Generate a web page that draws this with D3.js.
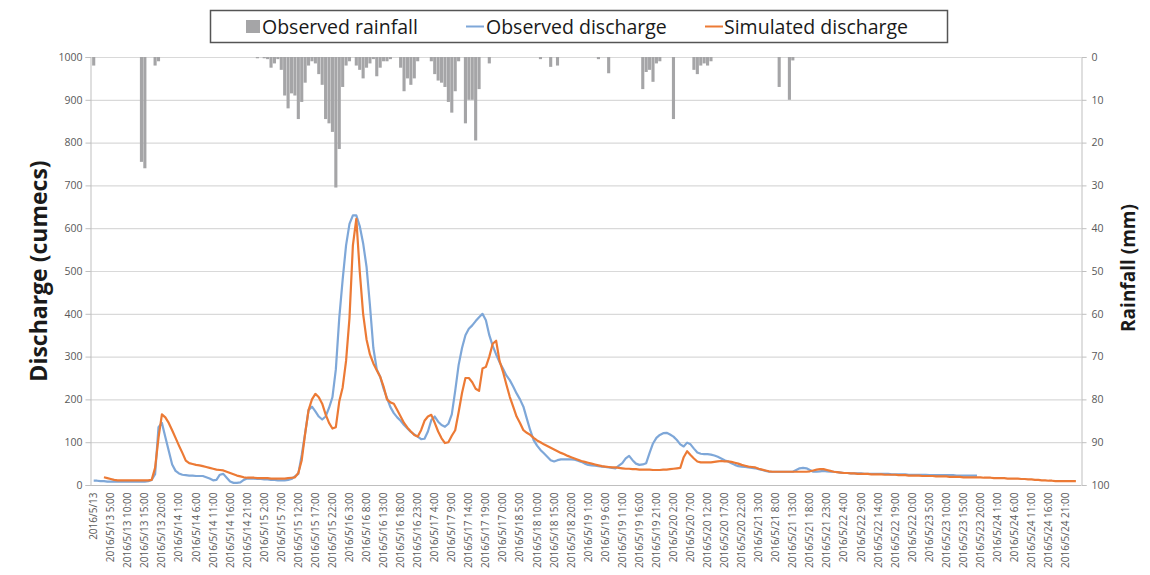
<!DOCTYPE html>
<html>
<head>
<meta charset="utf-8">
<script src="https://cdn.jsdelivr.net/npm/d3@7"></script>
<style>
  html, body { margin: 0; padding: 0; background: #fff; }
  svg { display: block; font-family: "Open Sans", "DejaVu Sans", sans-serif; }
</style>
</head>
<body>
<svg id="chart" width="1150" height="575"></svg>
<script>
// Hourly series, 2016/5/13 0:00 onward (index = hours since start)
const hourCount = 290;

// Observed discharge (cumecs), hours 0..259
const observedDischarge = [
  10,10,9,9,8,8,8,8,8,8,
  8,8,8,8,8,8,9,12,25,135,
  145,112,80,48,33,27,24,23,22,22,
  21,21,21,18,15,11,12,24,26,17,
  8,5,5,6,12,15,15,15,14,14,
  13,13,12,12,11,11,11,12,14,20,
  26,70,121,175,183,172,160,153,160,180,
  205,270,390,480,560,610,630,630,605,565,
  510,420,320,270,253,225,203,182,168,158,
  150,140,132,124,118,113,107,108,125,152,
  160,148,140,136,143,165,220,280,320,350,
  365,373,383,392,400,385,350,325,305,287,
  272,256,245,230,214,200,183,155,128,105,
  92,82,74,66,58,55,58,60,60,60,
  60,59,57,54,50,47,46,45,44,43,
  42,41,40,39,45,51,62,68,58,50,
  47,48,51,75,97,110,117,121,122,118,
  113,105,95,90,99,95,85,76,73,72,
  72,71,69,66,62,58,55,51,47,44,
  43,42,41,40,39,37,35,33,31,31,
  31,31,31,31,31,31,35,39,40,39,
  35,31,31,32,33,32,31,31,30,29,
  28,28,27,27,27,27,26,26,26,26,
  26,26,26,26,25,25,25,25,25,24,
  24,24,24,24,24,23,23,23,23,23,
  23,23,23,22,22,22,22,22,22,22
];

// Simulated discharge (cumecs), hours 0..288
const simulatedDischarge = [
  null,null,null,18,16,14,12,11,11,11,
  11,11,11,11,11,11,11,12,40,110,
  165,158,145,128,110,92,75,57,51,49,
  47,46,44,42,40,38,36,35,34,31,
  28,25,22,20,18,17,17,17,16,16,
  16,16,15,15,15,15,15,16,17,18,
  28,58,120,175,200,213,205,190,165,145,
  132,135,195,228,290,390,560,622,500,400,
  340,305,284,268,253,230,200,193,190,175,
  160,145,134,125,117,113,128,150,160,164,
  145,125,109,98,100,115,128,170,215,250,
  250,240,225,220,272,276,300,330,337,290,
  265,235,206,183,160,145,128,122,117,110,
  104,100,95,91,87,83,79,75,72,68,
  65,62,59,56,54,52,50,48,46,44,
  43,42,41,41,40,39,38,38,37,37,
  36,36,36,36,35,35,35,36,36,37,
  38,39,40,65,79,70,62,55,53,53,
  53,53,54,55,56,55,55,54,52,50,
  47,45,43,42,41,38,36,34,32,31,
  31,31,31,31,31,31,31,31,31,31,
  32,34,36,37,37,35,33,31,30,29,
  28,28,27,27,26,26,26,26,25,25,
  25,25,24,24,24,24,23,23,23,22,
  22,22,22,21,21,21,21,20,20,20,
  20,19,19,19,19,18,18,18,18,18,
  18,17,17,17,16,16,16,16,15,15,
  15,15,14,14,13,13,12,12,11,11,
  10,10,9,9,9,9,9,9,9
];

// Observed rainfall (mm): hours with rain and the amount in each
const rainHour = [0,14,15,18,19,48,50,51,52,53,
  54,55,56,57,58,59,60,61,62,63,
  64,65,66,67,68,69,70,71,72,73,74,75,
  77,78,79,80,81,82,83,84,85,86,87,
  90,91,92,93,94,95,
  99,100,101,102,103,104,105,106,107,
  109,110,111,112,113,116,131,134,136,148,151,
  161,162,163,164,165,166,170,176,177,178,179,180,181,201,204,205];
const rainMm = [2,24.5,26,2,1,0.3,0.3,0.5,2.5,1.5,
  0.5,3,9,12,8.5,9,14.5,10.5,6,2,
  1,1.5,4,6.5,14.5,15.5,17.5,30.5,21.5,7,2,1,
  2,3,5,2.5,1.5,0.5,4.5,2.5,1,1,0.5,
  2.5,8,5,6.5,5,1,
  1,4,5.5,6,7,10.5,13,8,1,
  15.5,10,10,19.5,7.5,1.5,0.5,2.3,2,0.5,3.8,
  7.5,3.5,3,5.8,1.5,1,14.5,3,4,2,1.5,2,1,7,10,0.8];

// Category axis labels, every fifth hour
const tickHours = [0,5,10,15,20,25,30,35,40,45,50,55,60,65,70,75,80,85,90,95,
  100,105,110,115,120,125,130,135,140,145,150,155,160,165,170,175,180,185,190,195,
  200,205,210,215,220,225,230,235,240,245,250,255,260,265,270,275,280,285];
const tickLabels = [
  "2016/5/13","2016/5/13 5:00","2016/5/13 10:00","2016/5/13 15:00","2016/5/13 20:00",
  "2016/5/14 1:00","2016/5/14 6:00","2016/5/14 11:00","2016/5/14 16:00","2016/5/14 21:00",
  "2016/5/15 2:00","2016/5/15 7:00","2016/5/15 12:00","2016/5/15 17:00","2016/5/15 22:00",
  "2016/5/16 3:00","2016/5/16 8:00","2016/5/16 13:00","2016/5/16 18:00","2016/5/16 23:00",
  "2016/5/17 4:00","2016/5/17 9:00","2016/5/17 14:00","2016/5/17 19:00","2016/5/17 0:00",
  "2016/5/18 5:00","2016/5/18 10:00","2016/5/18 15:00","2016/5/18 20:00",
  "2016/5/19 1:00","2016/5/19 6:00","2016/5/19 11:00","2016/5/19 16:00","2016/5/19 21:00",
  "2016/5/20 2:00","2016/5/20 7:00","2016/5/20 12:00","2016/5/20 17:00","2016/5/20 22:00",
  "2016/5/21 3:00","2016/5/21 8:00","2016/5/21 13:00","2016/5/21 18:00","2016/5/21 23:00",
  "2016/5/22 4:00","2016/5/22 9:00","2016/5/22 14:00","2016/5/22 19:00","2016/5/22 0:00",
  "2016/5/23 5:00","2016/5/23 10:00","2016/5/23 15:00","2016/5/23 20:00",
  "2016/5/24 1:00","2016/5/24 6:00","2016/5/24 11:00","2016/5/24 16:00","2016/5/24 21:00"
];

const dischargeTicks = [0,100,200,300,400,500,600,700,800,900,1000];
const rainTicks = [0,10,20,30,40,50,60,70,80,90,100];

const legendItems = ["Observed rainfall", "Observed discharge", "Simulated discharge"];

// ---- layout ----
const plotLeft = 90, plotRight = 1081, plotTop = 57, plotBottom = 485;
const colors = { rain: "#a5a5a7", observed: "#7ea7d8", simulated: "#ec7a35",
                 grid: "#d9d9d9", axis: "#bfbfbf", tickText: "#595959" };

const svg = d3.select("#chart");

const x = d3.scaleBand().domain(d3.range(hourCount)).range([92, plotRight]).padding(0);
const cx = i => x(i) + x.bandwidth() / 2;
const yQ = d3.scaleLinear().domain([0, 1000]).range([plotBottom, plotTop]);
const yR = d3.scaleLinear().domain([0, 100]).range([plotTop, plotBottom]);

// horizontal gridlines
svg.append("g").selectAll("line")
  .data(dischargeTicks.filter(d => d > 0))
  .join("line")
  .attr("x1", plotLeft).attr("x2", plotRight)
  .attr("y1", d => yQ(d) + 0.5).attr("y2", d => yQ(d) + 0.5)
  .attr("stroke", colors.grid).attr("stroke-width", 1.2);

// rainfall bars hanging from the top
const rain = rainHour.map((h, k) => ({ h, mm: rainMm[k] }));
svg.append("g").selectAll("rect")
  .data(rain)
  .join("rect")
  .attr("x", d => x(d.h) + 0.15)
  .attr("width", x.bandwidth() - 0.3)
  .attr("y", yR(0))
  .attr("height", d => yR(d.mm) - yR(0))
  .attr("fill", colors.rain);

// discharge lines
const line = d3.line()
  .defined(d => d.v != null)
  .x(d => cx(d.i))
  .y(d => yQ(d.v));

const obsPts = observedDischarge.map((v, i) => ({ i, v }));
const simPts = simulatedDischarge.map((v, i) => ({ i, v }));

svg.append("path").datum(obsPts)
  .attr("d", line).attr("fill", "none")
  .attr("stroke", colors.observed).attr("stroke-width", 2.2)
  .attr("stroke-linejoin", "round");

svg.append("path").datum(simPts)
  .attr("d", line).attr("fill", "none")
  .attr("stroke", colors.simulated).attr("stroke-width", 2.2)
  .attr("stroke-linejoin", "round");

// left axis
const gL = svg.append("g").attr("transform", `translate(${plotLeft + 0.5},0)`)
  .call(d3.axisLeft(yQ).tickValues(dischargeTicks).tickFormat(d3.format("d"))
    .tickSize(5).tickPadding(3));
gL.selectAll("path, line").attr("stroke", colors.axis);
gL.selectAll("text").attr("fill", colors.tickText)
  .style("font-size", "10.5px").style("font-family", "'Open Sans', sans-serif");

// right axis
const gR = svg.append("g").attr("transform", `translate(${plotRight + 0.5},0)`)
  .call(d3.axisRight(yR).tickValues(rainTicks).tickFormat(d3.format("d"))
    .tickSize(5).tickPadding(5));
gR.selectAll("path, line").attr("stroke", colors.axis);
gR.selectAll("text").attr("fill", colors.tickText)
  .style("font-size", "10.5px").style("font-family", "'Open Sans', sans-serif");

// bottom category axis
const labelOf = new Map(tickHours.map((h, k) => [h, tickLabels[k]]));
const gB = svg.append("g").attr("transform", `translate(0,${plotBottom + 0.5})`)
  .call(d3.axisBottom(x).tickValues(tickHours).tickSize(0).tickFormat(h => labelOf.get(h)));
gB.select("path").attr("stroke", colors.axis).attr("d", `M${plotLeft},0H${plotRight}`);
gB.selectAll("text")
  .attr("fill", colors.tickText)
  .style("font-size", "10px").style("font-family", "'Open Sans', sans-serif")
  .attr("text-anchor", "end")
  .attr("transform", "rotate(-90)")
  .attr("x", -7).attr("y", 0).attr("dy", "0.35em");

// axis titles
svg.append("text")
  .attr("transform", "translate(38,271) rotate(-90)")
  .attr("text-anchor", "middle").attr("dominant-baseline", "central")
  .attr("font-weight", "bold").attr("font-size", 23).attr("fill", "#1a1a1a")
  .text("Discharge (cumecs)");

svg.append("text")
  .attr("transform", "translate(1128,268) rotate(-90)")
  .attr("text-anchor", "middle").attr("dominant-baseline", "central")
  .attr("font-weight", "bold").attr("font-size", 19).attr("fill", "#1a1a1a")
  .text("Rainfall (mm)");

// legend
const leg = svg.append("g");
leg.append("rect").attr("x", 210.5).attr("y", 10.5).attr("width", 737).attr("height", 32)
  .attr("fill", "#fff").attr("stroke", "#555").attr("stroke-width", 1.5);
leg.append("rect").attr("x", 246).attr("y", 20).attr("width", 14).attr("height", 13)
  .attr("fill", colors.rain);
leg.append("line").attr("x1", 466).attr("x2", 484).attr("y1", 26.5).attr("y2", 26.5)
  .attr("stroke", colors.observed).attr("stroke-width", 2);
leg.append("line").attr("x1", 705).attr("x2", 723).attr("y1", 26.5).attr("y2", 26.5)
  .attr("stroke", colors.simulated).attr("stroke-width", 2);
const legX = [262, 486, 724];
leg.selectAll("text.lg").data(legendItems).join("text")
  .attr("class", "lg")
  .attr("x", (d, k) => legX[k]).attr("y", 33.5)
  .attr("font-size", 19.5).attr("fill", "#1a1a1a")
  .text(d => d);
</script>
</body>
</html>
